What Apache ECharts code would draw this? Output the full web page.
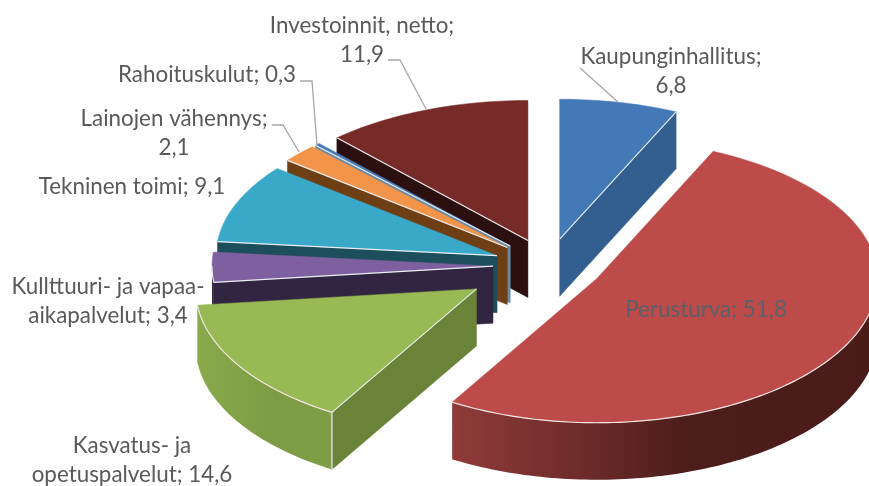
<!DOCTYPE html>
<html><head><meta charset="utf-8">
<style>html,body{margin:0;padding:0;background:#fff}#c{width:869px;height:486px}</style>
<script src="https://cdn.jsdelivr.net/npm/echarts@6/dist/echarts.min.js"></script>
</head><body><div id="c"></div>
<script>
const categories = ['Kaupunginhallitus','Perusturva','Kasvatus- ja\nopetuspalvelut','Kullttuuri- ja vapaa-\naikapalvelut','Tekninen toimi','Lainojen vähennys','Rahoituskulut','Investoinnit, netto'];
const values = [6.8,51.8,14.6,3.4,9.1,2.1,0.3,11.9];
const separators = [';\n','; ','; ','; ','; ',';\n','; ',';\n'];

// styling and layout, one entry per slice
const explode = [55,55,85,55,55,55,55,55];
const topColors = ['#4379b6','#bd4b49','#98b954','#7e60a1','#3aa8c8','#f2954a','#4a7db8','#772b29'];
const edgeWall = ['#325f90','#6b2a28','#6a8339','#312541','#1d4e5c','#6e3f15','#6c8ba3','#2c1010'];
const arcStops = [null,
  [[0,'#8f3b39'],[0.3,'#6e2c2a'],[0.55,'#4c1d1b'],[1,'#4a1b19']],
  [[0,'#8aa94b'],[0.6,'#7d9b44'],[1,'#7f9e46']],
  ['#312541'],['#1d4e5c'],['#6e3f15'],['#2c5578'],['#2c1010']];
const labelPos = [[671,71,'center'],[706,310,'center'],[132,460,'center'],[108,301,'center'],[132,187,'center'],[174,133,'center'],[207,75,'center'],[362,40,'center']];
const leaders = [[[580,68],[618,102]],[[388,60],[400,60],[426,109]],[[300,81],[312,81],[317,145]],[[272,125],[283,125],[299,152]]];

const CX=548, CY=266, RX=281, RY=140, RY_FRONT=144, DEPTH=57, Q=RY/RX;
const total = values.reduce((a,b)=>a+b,0);
let acc=0;
const arcs = values.map((v,i)=>{const a=acc/total*2*Math.PI;acc+=v;return {a,b:acc/total*2*Math.PI};});
const ranks = arcs.map(s=>-Math.cos((s.a+s.b)/2));
const order = ranks.map((r,i)=>i).sort((p,q)=>ranks[p]-ranks[q]);

function geometry(i){
  const {a,b}=arcs[i], m=(a+b)/2, e=explode[i];
  const ox=CX+e*Math.sin(m), oy=CY-e*Q*Math.cos(m);
  const at=t=>{const c=Math.cos(t);return [ox+RX*Math.sin(t), oy-(c<0?RY_FRONT:RY)*c];};
  return {a,b,ox,oy,at};
}
function renderItem(params){
  const i=params.dataIndex, g=geometry(i), z=order.indexOf(i)*10, kids=[];
  const {a,b,ox,oy,at}=g;
  const n=Math.max(4,Math.ceil((b-a)/0.02));
  const rim=[]; for(let k=0;k<=n;k++) rim.push(at(a+(b-a)*k/n));
  const down=p=>[p[0],p[1]+DEPTH];
  const quad=(p,q,fill,zz)=>kids.push({type:'polygon',z2:z+zz,shape:{points:[p,q,down(q),down(p)]},style:{fill,stroke:fill,lineWidth:0.5}});
  if(Math.sin(a)<-1e-6) quad([ox,oy],at(a),edgeWall[i],1);
  if(Math.sin(b)>1e-6) quad([ox,oy],at(b),edgeWall[i],1);
  // outer wall: only the part of the rim that faces the viewer
  const front=rim.filter((p,k)=>Math.cos(a+(b-a)*k/n)<=0.02);
  if(front.length>1){
    const st=arcStops[i], fill=st.length>1
      ? new echarts.graphic.LinearGradient(0,0,1,0,st.map(s=>({offset:s[0],color:s[1]})))
      : st[0];
    kids.push({type:'polygon',z2:z+2,shape:{points:front.concat(front.map(down).reverse())},style:{fill,stroke:null}});
    kids.push({type:'polyline',z2:z+4,shape:{points:front},style:{fill:null,stroke:'#f1e6e4',lineWidth:1.2}});
  }
  kids.push({type:'polygon',z2:z+3,shape:{points:[[ox,oy]].concat(rim)},style:{fill:topColors[i],stroke:topColors[i],lineWidth:0.5}});
  // thin light line where a visible wall meets the top
  const light=(p)=>kids.push({type:'polyline',z2:z+4,shape:{points:[[ox,oy],p]},style:{fill:null,stroke:'#e9eef2',lineWidth:1.1}});
  if(Math.sin(a)<-1e-6){ light(at(a)); const c=at(a); kids.push({type:'polyline',z2:z+4,shape:{points:[c,down(c)]},style:{fill:null,stroke:'#e9eef2',lineWidth:i===2?1.2:0}}); }
  if(Math.sin(b)>1e-6) light(at(b));
  return {type:'group',children:kids};
}
const fmt=v=>String(v).replace('.',',');
const graphics=[];
leaders.forEach(pts=>graphics.push({type:'polyline',z:20,shape:{points:pts},style:{fill:null,stroke:'#a6a6a6',lineWidth:1.3}}));
categories.forEach((c,i)=>{
  graphics.push({type:'text',z:30,x:labelPos[i][0],y:labelPos[i][1],style:{
    text:c+separators[i]+fmt(values[i]),
    font:'22.4px Lato, "Noto Sans", sans-serif',lineHeight:29,
    fill:i===1?'#5b6169':'#595959',align:'center',verticalAlign:'middle'}});
});
const chart=echarts.init(document.getElementById('c'),null,{renderer:'canvas'});
chart.setOption({animation:false,backgroundColor:'#fff',
  series:[{type:'custom',coordinateSystem:'none',silent:true,renderItem,data:values.map((v,i)=>({name:categories[i],value:v}))}],
  graphic:graphics});
</script></body></html>
